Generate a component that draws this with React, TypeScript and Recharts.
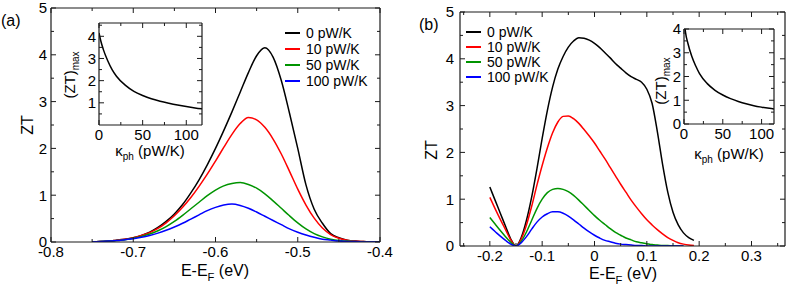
import React from 'react';
import { LineChart, Line, XAxis, YAxis, Legend } from 'recharts';

// ---- panel (a): ZT vs E-EF ----
const aE = [-0.75, -0.74, -0.73, -0.72, -0.71, -0.7, -0.69, -0.68, -0.67, -0.66, -0.65, -0.64, -0.63, -0.62, -0.61, -0.6, -0.59, -0.58, -0.57, -0.56, -0.55, -0.54, -0.53, -0.52, -0.51, -0.5, -0.49, -0.48, -0.47, -0.46, -0.45, -0.44, -0.43, -0.42, -0.41, -0.4];
const aZT0 = [0, 0.01, 0.02, 0.04, 0.06, 0.09, 0.14, 0.21, 0.31, 0.44, 0.6, 0.8, 1.05, 1.33, 1.65, 2.0, 2.38, 2.78, 3.2, 3.62, 3.98, 4.15, 3.95, 3.45, 2.75, 2.0, 1.22, 0.7, 0.4, 0.18, 0.09, 0.04, 0.02, 0.01, 0, 0];
const aZT10 = [0, 0.01, 0.02, 0.04, 0.06, 0.09, 0.14, 0.2, 0.29, 0.41, 0.56, 0.74, 0.95, 1.19, 1.45, 1.73, 2.02, 2.3, 2.53, 2.66, 2.61, 2.45, 2.2, 1.88, 1.51, 1.13, 0.79, 0.51, 0.3, 0.16, 0.08, 0.04, 0.02, 0.01, 0, 0];
const aZT50 = [0, 0.01, 0.02, 0.03, 0.05, 0.08, 0.12, 0.17, 0.24, 0.33, 0.44, 0.57, 0.71, 0.85, 0.99, 1.11, 1.2, 1.25, 1.27, 1.23, 1.15, 1.03, 0.88, 0.72, 0.56, 0.41, 0.28, 0.18, 0.11, 0.06, 0.03, 0.02, 0.01, 0, 0, 0];
const aZT100 = [0, 0.01, 0.02, 0.03, 0.05, 0.07, 0.1, 0.14, 0.19, 0.25, 0.32, 0.4, 0.49, 0.58, 0.67, 0.74, 0.79, 0.81, 0.78, 0.72, 0.64, 0.55, 0.46, 0.37, 0.28, 0.21, 0.15, 0.1, 0.06, 0.04, 0.02, 0.01, 0.01, 0, 0, 0];

// ---- panel (b): ZT vs E-EF ----
const bE = [-0.2, -0.19, -0.18, -0.17, -0.16, -0.15, -0.14, -0.13, -0.12, -0.11, -0.1, -0.09, -0.08, -0.07, -0.06, -0.05, -0.04, -0.03, -0.02, -0.01, 0, 0.01, 0.02, 0.03, 0.04, 0.05, 0.06, 0.07, 0.08, 0.09, 0.1, 0.11, 0.12, 0.13, 0.14, 0.15, 0.16, 0.17, 0.18, 0.19];
const bZT0 = [1.26, 0.98, 0.7, 0.42, 0.15, 0, 0.18, 0.55, 1.05, 1.65, 2.3, 2.9, 3.4, 3.78, 4.05, 4.25, 4.38, 4.45, 4.44, 4.4, 4.33, 4.24, 4.13, 4.02, 3.9, 3.8, 3.7, 3.62, 3.56, 3.5, 3.35, 3.05, 2.45, 1.75, 1.15, 0.72, 0.45, 0.28, 0.18, 0.12];
const bZT10 = [1.04, 0.8, 0.57, 0.35, 0.13, 0, 0.15, 0.45, 0.85, 1.3, 1.72, 2.1, 2.42, 2.65, 2.77, 2.78, 2.72, 2.62, 2.49, 2.35, 2.2, 2.03, 1.86, 1.68, 1.5, 1.32, 1.15, 0.98, 0.83, 0.69, 0.56, 0.45, 0.35, 0.26, 0.18, 0.12, 0.07, 0.04, 0.02, 0.01];
const bZT50 = [0.61, 0.47, 0.33, 0.2, 0.08, 0, 0.1, 0.3, 0.55, 0.8, 1.0, 1.14, 1.21, 1.23, 1.21, 1.16, 1.08, 0.98, 0.87, 0.76, 0.65, 0.55, 0.46, 0.37, 0.29, 0.23, 0.17, 0.13, 0.09, 0.07, 0.05, 0.03, 0.02, 0.01, 0.01, 0, 0, 0, null, null];
const bZT100 = [0.41, 0.31, 0.21, 0.12, 0.04, 0, 0.07, 0.2, 0.36, 0.51, 0.62, 0.69, 0.73, 0.73, 0.7, 0.64, 0.56, 0.47, 0.38, 0.3, 0.23, 0.17, 0.12, 0.09, 0.06, 0.04, 0.03, 0.02, 0.01, 0.01, 0, 0, 0, 0, 0, 0, 0, 0, null, null];

// ---- insets: (ZT)max vs kappa_ph ----
const kappa = [0, 2, 5, 10, 15, 20, 30, 40, 50, 60, 70, 80, 90, 100, 110, 120];
const ztMaxA = [4.15, 3.8, 3.4, 2.9, 2.5, 2.2, 1.8, 1.52, 1.33, 1.18, 1.07, 0.98, 0.9, 0.83, 0.77, 0.72];
const ztMaxB = [4.45, 3.85, 3.4, 2.85, 2.45, 2.12, 1.7, 1.42, 1.22, 1.07, 0.95, 0.85, 0.77, 0.71, 0.66, 0.62];

const seriesKeys = ['k0', 'k10', 'k50', 'k100'];
const seriesNames = ['0 pW/K', '10 pW/K', '50 pW/K', '100 pW/K'];
const seriesColors = ['#000000', '#ff0000', '#009400', '#0000ff'];

const aXMajor = [-0.8, -0.7, -0.6, -0.5, -0.4];
const aXMinor = [-0.75, -0.65, -0.55, -0.45];
const bXMajor = [-0.2, -0.1, 0, 0.1, 0.2, 0.3];
const bXMinor = [-0.25, -0.15, -0.05, 0.05, 0.15, 0.25, 0.35];
const ztMajor = [0, 1, 2, 3, 4, 5];
const ztMinor = [0.5, 1.5, 2.5, 3.5, 4.5];
const inXMajor = [0, 50, 100];
const inXMinor = [25, 75];
const inAYMajor = [1, 2, 3, 4];
const inAYMinor = [0.5, 1.5, 2.5, 3.5, 4.5];
const inBYMajor = [0, 1, 2, 3, 4];
const inBYMinor = [0.5, 1.5, 2.5, 3.5];

const FONT = '"Liberation Sans", Arial, Helvetica, sans-serif';
const AXIS = '#1a1a1a';

const mkRows = (e: number[], cols: (number | null)[][]) =>
  e.map((v, i) => {
    const r: any = { e: v };
    seriesKeys.forEach((k, j) => (r[k] = cols[j][i]));
    return r;
  });

const dataA = mkRows(aE, [aZT0, aZT10, aZT50, aZT100]);
const dataB = mkRows(bE, [bZT0, bZT10, bZT50, bZT100]);
const insetA = kappa.map((k, i) => ({ k, z: ztMaxA[i] }));
const insetB = kappa.map((k, i) => ({ k, z: ztMaxB[i] }));

const allTicks = (a: number[], b: number[]) => [...a, ...b].sort((x, y) => x - y);

type Side = 'bottom' | 'top' | 'left' | 'right';

// inward frame ticks, label only on major ones
function mkTick(side: Side, major: number[], label: boolean, fontSize = 15, gap = 14, big = 5, small = 3) {
  return (props: any) => {
    const { x, y, payload } = props;
    const v = payload.value;
    const isMajor = major.some((m) => Math.abs(m - v) < 1e-9);
    const len = isMajor ? big : small;
    let x2 = x;
    let y2 = y;
    if (side === 'bottom') y2 = y - len;
    else if (side === 'top') y2 = y + len;
    else if (side === 'left') x2 = x + len;
    else x2 = x - len;
    return (
      <g>
        <line x1={x} y1={y} x2={x2} y2={y2} stroke={AXIS} strokeWidth={1} />
        {label && isMajor && side === 'bottom' && (
          <text x={x} y={y + gap} textAnchor="middle" fontSize={fontSize} fontFamily={FONT} fill="#000">
            {String(v)}
          </text>
        )}
        {label && isMajor && side === 'left' && (
          <text x={x - gap} y={y} dy="0.36em" textAnchor="end" fontSize={fontSize} fontFamily={FONT} fill="#000">
            {String(v)}
          </text>
        )}
      </g>
    );
  };
}

interface FrameOpts {
  xDomain: number[];
  yDomain: number[];
  xMajor: number[];
  xMinor: number[];
  yMajor: number[];
  yMinor: number[];
  xKey: string;
  xHeight: number;
  yWidth: number;
  font: number;
  xGap: number;
  yGap: number;
}

function frame(o: FrameOpts) {
  const xt = allTicks(o.xMajor, o.xMinor);
  const yt = allTicks(o.yMajor, o.yMinor);
  const common = { tickSize: 0, tickMargin: 0, tickLine: false, interval: 0 as const, allowDataOverflow: true, axisLine: { stroke: AXIS, strokeWidth: 1.2 } };
  return [
    <XAxis key="xb" xAxisId="b" dataKey={o.xKey} type="number" domain={o.xDomain} ticks={xt} height={o.xHeight} tick={mkTick('bottom', o.xMajor, true, o.font, o.xGap)} {...common} />,
    <XAxis key="xt" xAxisId="t" dataKey={o.xKey} orientation="top" type="number" domain={o.xDomain} ticks={xt} height={1} tick={mkTick('top', o.xMajor, false)} {...common} />,
    <YAxis key="yl" yAxisId="l" type="number" domain={o.yDomain} ticks={yt} width={o.yWidth} tick={mkTick('left', o.yMajor, true, o.font, o.yGap)} {...common} />,
    <YAxis key="yr" yAxisId="r" orientation="right" type="number" domain={o.yDomain} ticks={yt} width={1} tick={mkTick('right', o.yMajor, false)} {...common} />,
  ];
}

const legendBox = (rowH: number) => () => (
  <div style={{ fontFamily: FONT, fontSize: 14, color: '#000' }}>
    {seriesNames.map((n, i) => (
      <div key={n} style={{ display: 'flex', alignItems: 'center', height: rowH, whiteSpace: 'nowrap' }}>
        <span style={{ display: 'inline-block', width: 15, height: 0, borderTop: `2px solid ${seriesColors[i]}`, marginRight: 6 }} />
        <span>{n}</span>
      </div>
    ))}
  </div>
);

const xLabel = (cx: number, y: number, size = 16) => (
  <text x={cx} y={y} textAnchor="middle" fontSize={size} fontFamily={FONT} fill="#000">
    E-E<tspan dy={5} fontSize={size * 0.7}>F</tspan>
    <tspan dy={-5}> (eV)</tspan>
  </text>
);

const ztLabel = (x: number, cy: number) => (
  <text x={x} y={cy} transform={`rotate(-90, ${x}, ${cy})`} textAnchor="middle" fontSize={16} fontFamily={FONT} fill="#000">
    ZT
  </text>
);

const insetYLabel = (x: number, cy: number) => (
  <text x={x} y={cy} transform={`rotate(-90, ${x}, ${cy})`} textAnchor="middle" fontSize={15} fontFamily={FONT} fill="#000">
    (ZT)<tspan dy={4} fontSize={10}>max</tspan>
  </text>
);

const insetXLabel = (cx: number, y: number) => (
  <text x={cx} y={y} textAnchor="middle" fontSize={15} fontFamily={FONT} fill="#000">
    κ<tspan dy={4} fontSize={10}>ph</tspan>
    <tspan dy={-4}> (pW/K)</tspan>
  </text>
);

const seriesLines = () =>
  seriesKeys.map((k, i) => (
    <Line key={k} xAxisId="b" yAxisId="l" dataKey={k} name={seriesNames[i]} type="monotone" stroke={seriesColors[i]} strokeWidth={1.5} dot={false} activeDot={false} isAnimationActive={false} />
  ));

export default function App() {
  return (
    <div style={{ position: 'absolute', left: 0, top: 0, width: 789, height: 285, background: '#fff', overflow: 'hidden' }}>
      {/* panel (a) */}
      <div style={{ position: 'absolute', left: 0, top: 0 }}>
        <LineChart width={400} height={285} data={dataA} margin={{ top: 7, right: 19, left: 0, bottom: 3 }}>
          {frame({ xDomain: [-0.8, -0.4], yDomain: [0, 5], xMajor: aXMajor, xMinor: aXMinor, yMajor: ztMajor, yMinor: ztMinor, xKey: 'e', xHeight: 40, yWidth: 51, font: 15, xGap: 15, yGap: 4 })}
          {seriesLines()}
          <Legend layout="vertical" align="center" verticalAlign="middle" content={legendBox(16)} wrapperStyle={{ left: 285, top: 25, width: 'auto' }} />
          {ztLabel(33, 125)}
          {xLabel(215, 276)}
        </LineChart>
      </div>
      {/* panel (b) */}
      <div style={{ position: 'absolute', left: 395, top: 0 }}>
        <LineChart width={394} height={285} data={dataB} margin={{ top: 11, right: 3, left: 0, bottom: 3 }}>
          {frame({ xDomain: [-0.257, 0.364], yDomain: [0, 5], xMajor: bXMajor, xMinor: bXMinor, yMajor: ztMajor, yMinor: ztMinor, xKey: 'e', xHeight: 36, yWidth: 65, font: 15, xGap: 15, yGap: 6 })}
          {seriesLines()}
          <Legend layout="vertical" align="center" verticalAlign="middle" content={legendBox(15)} wrapperStyle={{ left: 71, top: 24, width: 'auto' }} />
          {ztLabel(42, 150)}
          {xLabel(228, 279)}
        </LineChart>
      </div>
      {/* inset (a) */}
      <div style={{ position: 'absolute', left: 60, top: 15 }}>
        <LineChart width={150} height={150} data={insetA} margin={{ top: 7, right: 7, left: 0, bottom: 10 }}>
          {frame({ xDomain: [0, 118], yDomain: [0, 4.6], xMajor: inXMajor, xMinor: inXMinor, yMajor: inAYMajor, yMinor: inAYMinor, xKey: 'k', xHeight: 30, yWidth: 39, font: 15, xGap: 15, yGap: 3 })}
          <Line xAxisId="b" yAxisId="l" dataKey="z" type="monotone" stroke="#000" strokeWidth={1.5} dot={false} activeDot={false} isAnimationActive={false} />
          {insetYLabel(15, 60)}
          {insetXLabel(90, 141)}
        </LineChart>
      </div>
      {/* inset (b) */}
      <div style={{ position: 'absolute', left: 640, top: 15 }}>
        <LineChart width={149} height={150} data={insetB} margin={{ top: 13, right: 14, left: 0, bottom: 11 }}>
          {frame({ xDomain: [0, 116], yDomain: [0, 4], xMajor: inXMajor, xMinor: inXMinor, yMajor: inBYMajor, yMinor: inBYMinor, xKey: 'k', xHeight: 30, yWidth: 44, font: 15, xGap: 15, yGap: 3 })}
          <Line xAxisId="b" yAxisId="l" dataKey="z" type="monotone" stroke="#000" strokeWidth={1.5} dot={false} activeDot={false} isAnimationActive={false} />
          {insetYLabel(26, 66)}
          {insetXLabel(89, 144)}
        </LineChart>
      </div>
      <div style={{ position: 'absolute', left: 1, top: 12, fontFamily: FONT, fontSize: 16 }}>(a)</div>
      <div style={{ position: 'absolute', left: 419, top: 16, fontFamily: FONT, fontSize: 16 }}>(b)</div>
    </div>
  );
}
